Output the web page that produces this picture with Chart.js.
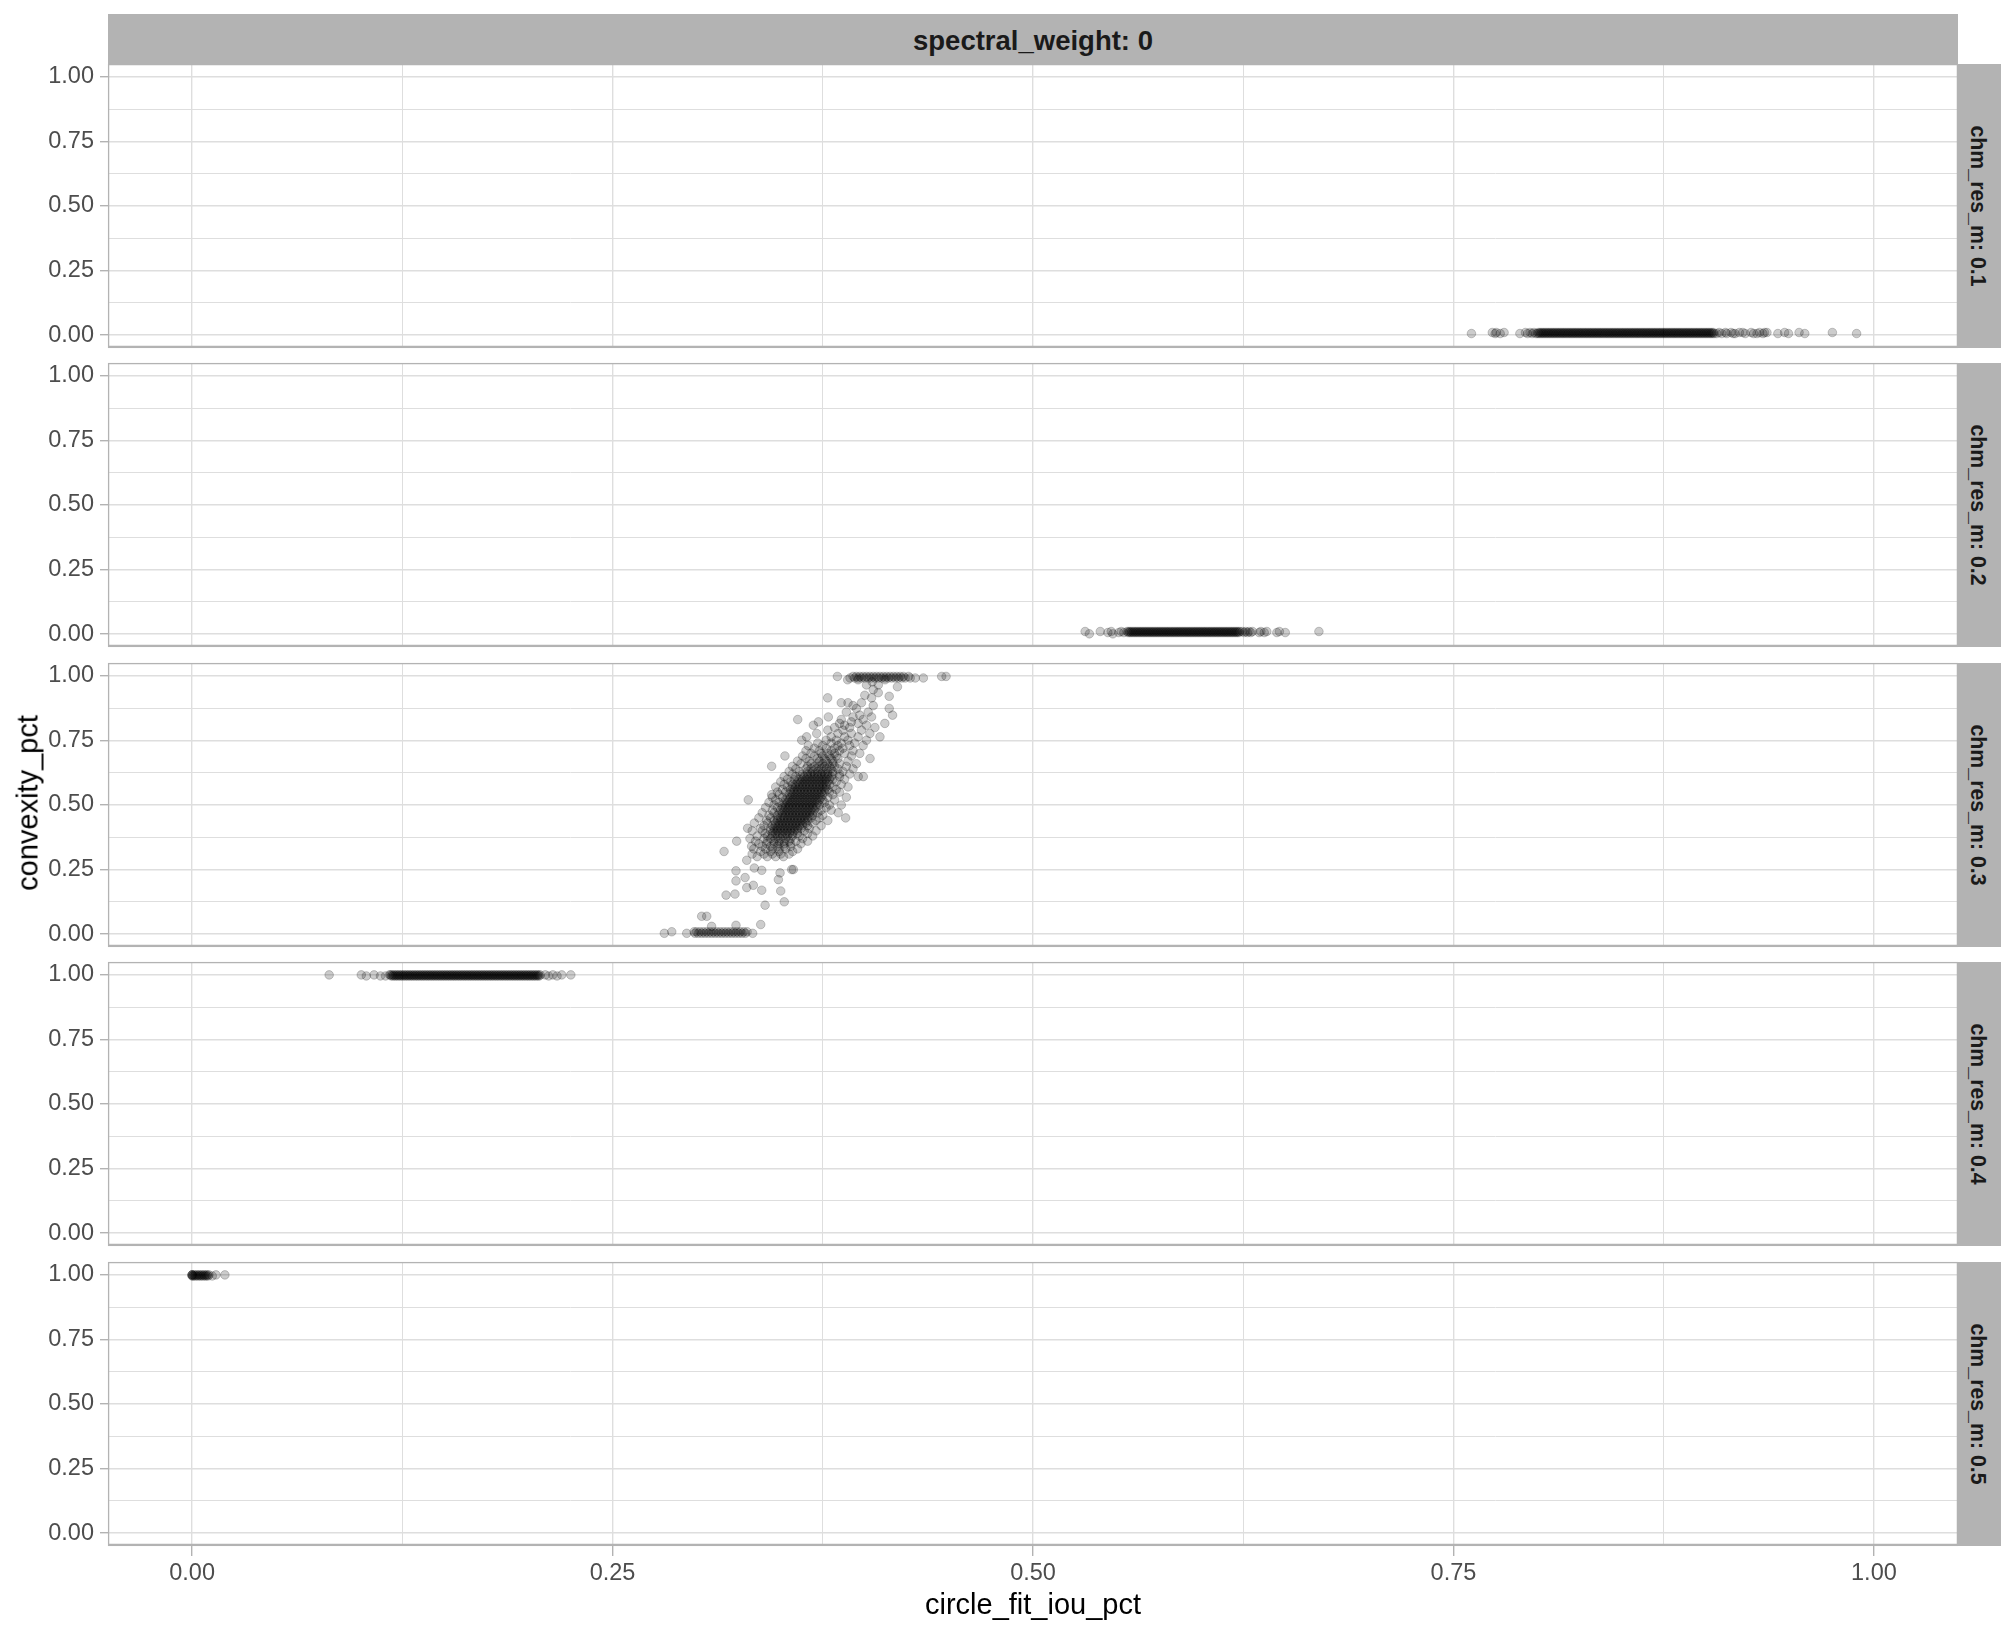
<!DOCTYPE html>
<html>
<head>
<meta charset="utf-8">
<script src="https://cdn.jsdelivr.net/npm/chart.js@4.4.0/dist/chart.umd.min.js"></script>
<style>
  html, body { margin: 0; padding: 0; background: #fff; }
  body { width: 2016px; height: 1632px; position: relative; overflow: hidden; font-family: 'Liberation Sans', Arial, sans-serif; }
  canvas { position: absolute; left: 0; z-index: 1; }
  .strip { position: absolute; background: #b3b3b3; color: #1a1a1a; font-weight: bold; z-index: 2; }
  #topStrip { left: 108px; top: 14px; width: 1850px; height: 48px; padding-top: 2px; line-height: 50px; text-align: center; font-size: 27.5px; }
  .side { left: 1958px; width: 43px; height: 284px; }
  .side span { position: absolute; left: calc(50% - 3px); top: 50%; transform: translate(-50%, -50%) rotate(90deg); white-space: nowrap; font-size: 21.3px; line-height: 1; }
  .title { position: absolute; color: #000; font-size: 29px; line-height: 1; white-space: nowrap; z-index: 2; }
  #xTitle { left: 1033px; top: 1603.5px; transform: translate(-50%, -50%); }
  #yTitle { left: 28px; top: 803px; transform: translate(-50%, -50%) rotate(-90deg); }
</style>
</head>
<body>
<div id="topStrip" class="strip"></div>
<div id="xTitle" class="title"></div>
<div id="yTitle" class="title"></div>
<script>
const facetTitle = 'spectral_weight: 0';
const facetLabels = ['chm_res_m: 0.1', 'chm_res_m: 0.2', 'chm_res_m: 0.3', 'chm_res_m: 0.4', 'chm_res_m: 0.5'];
const xTitle = 'circle_fit_iou_pct';
const yTitle = 'convexity_pct';
const gridTicks = [0, 0.125, 0.25, 0.375, 0.5, 0.625, 0.75, 0.875, 1];
const labelTicks = [0, 0.25, 0.5, 0.75, 1];
const axisMin = -0.05;
const axisMax = 1.05;

// each row: [convexity_pct, [circle_fit_iou_pct, ...]]
const panel1Rows = [
  [.006, [.7607,.7748,.7778,.7895,.7941,.7968,.7990,
    .800,.801,.802,.803,.804,.805,.806,.807,.808,.809,.810,.811,.812,.813,.814,.815,.816,.817,.818,.819,
    .820,.821,.822,.823,.824,.825,.826,.827,.828,.829,.830,.831,.832,.833,.834,.835,.836,.837,.838,.839,
    .840,.841,.842,.843,.844,.845,.846,.847,.848,.849,.850,.851,.852,.853,.854,.855,.856,.857,.858,.859,
    .860,.861,.862,.863,.864,.865,.866,.867,.868,.869,.870,.871,.872,.873,.874,.875,.876,.877,.878,.879,
    .880,.881,.882,.883,.884,.885,.886,.887,.888,.889,.890,.891,.892,.893,.894,.895,.896,.897,.898,.899,
    .900,.901,.902,.903,.904,.905,
    .9065,.9095,.9125,.9163,.9175,.9235,.9285,.9305,.9340,.9429,.9492,.9589,.9897]],
  [.010, [.7731,.7755,.7801,.7928,.7955,.7979,
    .8005,.8015,.8025,.8035,.8045,.8055,.8065,.8075,.8085,.8095,.8105,.8115,.8125,.8135,.8145,.8155,.8165,.8175,.8185,.8195,
    .8205,.8215,.8225,.8235,.8245,.8255,.8265,.8275,.8285,.8295,.8305,.8315,.8325,.8335,.8345,.8355,.8365,.8375,.8385,.8395,
    .8405,.8415,.8425,.8435,.8445,.8455,.8465,.8475,.8485,.8495,.8505,.8515,.8525,.8535,.8545,.8555,.8565,.8575,.8585,.8595,
    .8605,.8615,.8625,.8635,.8645,.8655,.8665,.8675,.8685,.8695,.8705,.8715,.8725,.8735,.8745,.8755,.8765,.8775,.8785,.8795,
    .8805,.8815,.8825,.8835,.8845,.8855,.8865,.8875,.8885,.8895,.8905,.8915,.8925,.8935,.8945,.8955,.8965,.8975,.8985,.8995,
    .9005,.9015,.9025,.9035,.9045,
    .9080,.9117,.9150,.9200,.9220,.9270,.9320,.9350,.9364,.9469,.9555,.9753]]
];

const panel2Rows = [
  [.010, [.5310,.5400,.5465,.5525,
    .556,.557,.558,.559,.560,.561,.562,.563,.564,.565,.566,.567,.568,.569,.570,.571,.572,.573,.574,.575,.576,.577,.578,.579,
    .580,.581,.582,.583,.584,.585,.586,.587,.588,.589,.590,.591,.592,.593,.594,.595,.596,.597,.598,.599,.600,.601,.602,.603,
    .604,.605,.606,.607,.608,.609,.610,.611,.612,.613,.614,.615,.616,.617,.618,.619,.620,.621,.622,.623,
    .6245,.6265,.6285,.6305,.6355,.6390,.6465,.6700]],
  [.006, [.5445,.5510,.5540,
    .5565,.5575,.5585,.5595,.5605,.5615,.5625,.5635,.5645,.5655,.5665,.5675,.5685,.5695,.5705,.5715,.5725,.5735,.5745,.5755,
    .5765,.5775,.5785,.5795,.5805,.5815,.5825,.5835,.5845,.5855,.5865,.5875,.5885,.5895,.5905,.5915,.5925,.5935,.5945,.5955,
    .5965,.5975,.5985,.5995,.6005,.6015,.6025,.6035,.6045,.6055,.6065,.6075,.6085,.6095,.6105,.6115,.6125,.6135,.6145,.6155,
    .6165,.6175,.6185,.6195,.6205,.6215,.6225,
    .6255,.6275,.6295,.6345,.6375,.6450,.6500]],
  [.001, [.5335,.5475]]
];

const panel3Rows = [
  [.003, [.2808,.2941,.299,.301,.303,.305,.307,.309,.311,.313,.315,.317,.319,.321,.323,.325,.327,.329,.3333]],
  [.009, [.2852,.2985,.300,.302,.304,.306,.308,.310,.312,.314,.316,.318,.320,.322,.324,.326,.328,.330]],
  [.030, [.3089]], [.034, [.3234]], [.037, [.3381]], [.069, [.3030,.3060]],
  [.112, [.3407]], [.125, [.3521]], [.151, [.3175]], [.155, [.3228]], [.167, [.3500]],
  [.170, [.3387]], [.180, [.3298]], [.189, [.3337]], [.206, [.3234]], [.211, [.3486]],
  [.219, [.3288]], [.237, [.3496]], [.245, [.3234]], [.247, [.3387]], [.250, [.3565,.3575]],
  [.256, [.3343]], [.286, [.3298]],
  [.30, [.336,.342,.347,.3516]],
  [.31, [.333,.340,.345,.350,.355]],
  [.32, [.3163,.338,.344,.349,.3571]],
  [.33, [.334,.341,.345,.349,.353,.360]],
  [.34, [.3327,.339,.344,.348,.352,.356]],
  [.35, [.3416,.337,.346,.349,.352,.356,.362]],
  [.36, [.3238,.335,.342,.346,.349,.352,.355,.359,.366]],
  [.37, [.3317,.340,.344,.347,.350,.353,.356,.363]],
  [.38, [.336,.342,.345,.348,.351,.354,.357,.361,.369]],
  [.39, [.3408,.345,.347,.349,.351,.353,.355,.357,.360,.366]],
  [.40, [.333,.339,.344,.346,.348,.350,.352,.354,.356,.358,.360,.364,.371]],
  [.41, [.3303,.338,.344,.346,.348,.350,.352,.354,.356,.358,.360,.362,.367]],
  [.42, [.340,.345,.347,.349,.351,.353,.355,.357,.359,.361,.363,.366,.374]],
  [.43, [.3343,.342,.347,.349,.351,.353,.355,.357,.359,.361,.363,.365,.369]],
  [.44, [.3416,.346,.348,.350,.352,.354,.356,.358,.360,.362,.364,.366,.371,.378]],
  [.45, [.337,.344,.348,.350,.352,.354,.356,.358,.360,.362,.364,.366,.368,.373,.3886]],
  [.46, [.343,.348,.351,.353,.355,.357,.359,.361,.363,.365,.367,.369,.375]],
  [.47, [.339,.346,.349,.351,.353,.355,.357,.359,.361,.363,.365,.367,.369,.372,.3842]],
  [.48, [.345,.350,.352,.354,.356,.358,.360,.362,.364,.366,.368,.370,.374,.380]],
  [.49, [.341,.348,.351,.353,.355,.357,.359,.361,.363,.365,.367,.369,.371,.377]],
  [.50, [.346,.351,.353,.355,.357,.359,.361,.363,.365,.367,.369,.371,.373,.379,.386]],
  [.51, [.343,.349,.352,.354,.356,.358,.360,.362,.364,.366,.368,.370,.372,.376]],
  [.52, [.3307,.347,.353,.355,.357,.359,.361,.363,.365,.367,.369,.371,.373,.375,.382]],
  [.53, [.345,.351,.354,.356,.358,.360,.362,.364,.366,.368,.370,.372,.374,.378,.389]],
  [.54, [.3446,.349,.355,.357,.359,.361,.363,.365,.367,.369,.371,.373,.375,.381]],
  [.55, [.348,.353,.356,.358,.360,.362,.364,.366,.368,.370,.372,.374,.376,.379,.385]],
  [.56, [.351,.356,.358,.360,.362,.364,.366,.368,.370,.372,.374,.376,.378,.383]],
  [.57, [.347,.354,.357,.359,.361,.363,.365,.367,.369,.371,.373,.375,.377,.381,.390]],
  [.58, [.352,.357,.359,.361,.363,.365,.367,.369,.371,.373,.375,.377,.379,.386]],
  [.59, [.350,.356,.360,.362,.364,.366,.368,.370,.372,.374,.376,.378,.383]],
  [.60, [.354,.358,.361,.363,.365,.367,.369,.371,.373,.375,.377,.379,.381,.388]],
  [.61, [.352,.359,.362,.364,.366,.368,.370,.372,.374,.376,.378,.380,.385,.3961,.3991]],
  [.62, [.357,.363,.366,.368,.370,.372,.374,.376,.378,.381,.385,.391]],
  [.63, [.355,.361,.366,.369,.372,.375,.378,.381,.387]],
  [.64, [.359,.365,.368,.371,.374,.377,.380,.384,.393]],
  [.65, [.3446,.357,.366,.370,.373,.376,.379,.382,.389]],
  [.66, [.362,.368,.372,.375,.378,.381,.385,.395]],
  [.67, [.360,.367,.373,.377,.381,.390]],
  [.68, [.365,.372,.376,.380,.384,.4031]],
  [.69, [.3525,.363,.370,.375,.379,.383,.392]],
  [.70, [.368,.374,.378,.382,.388,.397]],
  [.71, [.365,.373,.380,.385,.393]],
  [.72, [.370,.377,.382,.387]],
  [.73, [.3664,.375,.384,.391,.399]],
  [.74, [.372,.380,.386,.394]],
  [.751, [.3625,.377,.383,.390,.401]],
  [.764, [.3654,.380,.388,.396,.4090]],
  [.777, [.3714,.384,.392,.403]],
  [.79, [.378,.387,.398]],
  [.80, [.382,.391,.406]],
  [.809, [.3694,.388,.401]],
  [.816, [.385,.396,.4119]],
  [.822, [.3724,.392]],
  [.831, [.3601,.386,.399]],
  [.841, [.3783,.393,.404]],
  [.848, [.397,.4165]],
  [.86, [.389,.402]],
  [.874, [.395,.4145]],
  [.885, [.393,.405]],
  [.896, [.386,.390,.398]],
  [.915, [.3779,.404]],
  [.921, [.4145]],
  [.925, [.400]],
  [.935, [.408]],
  [.947, [.405]],
  [.958, [.4194]],
  [.965, [.401,.408]],
  [.977, [.4044]],
  [.985, [.3898,.396,.412]],
  [.992, [.3912,.394,.396,.398,.400,.402,.404,.406,.408,.410,.412,.414,.416,.418,.420,.422,.424,.427,.430,.4348]],
  [.998, [.3837,.393,.395,.397,.399,.401,.403,.405,.407,.409,.411,.413,.415,.417,.419,.421,.423,.426,.4457,.4483]]
];

const panel4Rows = [
  [1.0, [.0815,.1006,.1082,.1174,
    .118,.119,.120,.121,.122,.123,.124,.125,.126,.127,.128,.129,.130,.131,.132,.133,.134,.135,.136,.137,.138,.139,
    .140,.141,.142,.143,.144,.145,.146,.147,.148,.149,.150,.151,.152,.153,.154,.155,.156,.157,.158,.159,
    .160,.161,.162,.163,.164,.165,.166,.167,.168,.169,.170,.171,.172,.173,.174,.175,.176,.177,.178,.179,
    .180,.181,.182,.183,.184,.185,.186,.187,.188,.189,.190,.191,.192,.193,.194,.195,.196,.197,.198,.199,
    .200,.201,.202,.203,.204,.205,.206,.207,
    .2100,.2145,.2198,.2252]],
  [.996, [.1036,.1120,.1150,
    .1185,.1195,.1205,.1215,.1225,.1235,.1245,.1255,.1265,.1275,.1285,.1295,.1305,.1315,.1325,.1335,.1345,.1355,.1365,.1375,.1385,.1395,
    .1405,.1415,.1425,.1435,.1445,.1455,.1465,.1475,.1485,.1495,.1505,.1515,.1525,.1535,.1545,.1555,.1565,.1575,.1585,.1595,
    .1605,.1615,.1625,.1635,.1645,.1655,.1665,.1675,.1685,.1695,.1705,.1715,.1725,.1735,.1745,.1755,.1765,.1775,.1785,.1795,
    .1805,.1815,.1825,.1835,.1845,.1855,.1865,.1875,.1885,.1895,.1905,.1915,.1925,.1935,.1945,.1955,.1965,.1975,.1985,.1995,
    .2005,.2015,.2025,.2035,.2045,.2055,.2065,
    .2120,.2170]]
];

const panel5Rows = [
  [1.0, [.000,.000,.000,.001,.002,.003,.004,.005,.006,.007,.008,.009,.010,.0142,.0195]],
  [.996, [.000,.0005,.0015,.0025,.0035,.0045,.0055,.0065,.0075,.0085,.0095,.012]]
];

const panelRows = [panel1Rows, panel2Rows, panel3Rows, panel4Rows, panel5Rows];

// layout (px)
const panelTops = [64, 363, 663, 962, 1262];
const panelH = 284;
const chartW = 1958;
const yAxisW = 108;
const xAxisH = 80;

Chart.defaults.font.family = "'Liberation Sans', Arial, sans-serif";

const isLabelTick = v => labelTicks.some(t => Math.abs(t - v) < 1e-9);

const panelBorder = {
  id: 'panelBorder',
  afterDatasetsDraw(chart) {
    const { ctx, chartArea: a } = chart;
    ctx.save();
    ctx.strokeStyle = '#b3b3b3';
    ctx.lineWidth = 1.3;
    ctx.strokeRect(a.left + 0.6, a.top + 0.6, a.right - a.left - 1.2, a.bottom - a.top - 1.2);
    ctx.lineWidth = 2.2;
    ctx.beginPath();
    ctx.moveTo(a.left, a.bottom - 1.1);
    ctx.lineTo(a.right, a.bottom - 1.1);
    ctx.stroke();
    ctx.restore();
  }
};

document.getElementById('topStrip').textContent = facetTitle;
document.getElementById('xTitle').textContent = xTitle;
document.getElementById('yTitle').textContent = yTitle;

panelRows.forEach((rows, i) => {
  const last = i === panelRows.length - 1;

  const strip = document.createElement('div');
  strip.className = 'strip side';
  strip.style.top = panelTops[i] + 'px';
  const span = document.createElement('span');
  span.textContent = facetLabels[i];
  strip.appendChild(span);
  document.body.appendChild(strip);

  const h = panelH + 4 + (last ? xAxisH : 0);
  const canvas = document.createElement('canvas');
  canvas.width = chartW;
  canvas.height = h;
  canvas.style.top = (panelTops[i] - 2) + 'px';
  canvas.style.width = chartW + 'px';
  canvas.style.height = h + 'px';
  document.body.appendChild(canvas);

  const points = [];
  rows.forEach(([y, xs]) => xs.forEach(x => points.push({ x, y })));

  new Chart(canvas, {
    type: 'scatter',
    data: {
      datasets: [{
        data: points,
        pointRadius: 4.3,
        pointBorderWidth: 1,
        backgroundColor: 'rgba(0,0,0,0.2)',
        borderColor: 'rgba(0,0,0,0.2)'
      }]
    },
    options: {
      responsive: false,
      animation: false,
      devicePixelRatio: 1,
      events: [],
      layout: { autoPadding: false, padding: { left: 0, right: 0, top: 2, bottom: 2 } },
      plugins: { legend: { display: false }, tooltip: { enabled: false } },
      scales: {
        x: {
          type: 'linear',
          min: axisMin,
          max: axisMax,
          afterBuildTicks: s => { s.ticks = gridTicks.map(v => ({ value: v })); },
          afterFit: s => { s.height = last ? xAxisH : 0; s.paddingLeft = 0; s.paddingRight = 0; },
          border: { display: false },
          grid: {
            color: '#dedede',
            lineWidth: c => isLabelTick(c.tick.value) ? 1.4 : 1,
            drawTicks: last,
            tickLength: 10,
            tickWidth: 1.4,
            tickColor: c => isLabelTick(c.tick.value) ? '#b3b3b3' : 'rgba(0,0,0,0)'
          },
          ticks: {
            display: last,
            autoSkip: false,
            maxRotation: 0,
            padding: 3,
            color: '#4d4d4d',
            font: { size: 23.5 },
            callback: v => isLabelTick(v) ? v.toFixed(2) : ''
          }
        },
        y: {
          type: 'linear',
          min: axisMin,
          max: axisMax,
          afterBuildTicks: s => { s.ticks = gridTicks.map(v => ({ value: v })); },
          afterFit: s => { s.width = yAxisW; s.paddingTop = 0; s.paddingBottom = 0; },
          border: { display: false },
          grid: {
            color: '#dedede',
            lineWidth: c => isLabelTick(c.tick.value) ? 1.4 : 1,
            tickLength: 8,
            tickWidth: 1.4,
            tickColor: c => isLabelTick(c.tick.value) ? '#b3b3b3' : 'rgba(0,0,0,0)'
          },
          ticks: {
            autoSkip: false,
            padding: 6,
            color: '#4d4d4d',
            font: { size: 23.5 },
            callback: v => isLabelTick(v) ? v.toFixed(2) : ''
          }
        }
      }
    },
    plugins: [panelBorder]
  });
});
</script>
</body>
</html>
